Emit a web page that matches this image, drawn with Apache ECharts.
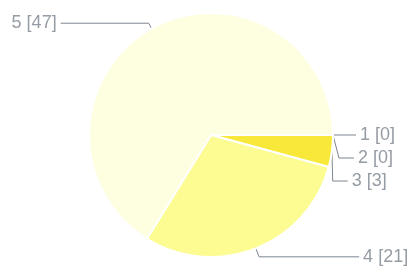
<!DOCTYPE html>
<html>
<head>
<meta charset="utf-8">
<script src="https://cdn.jsdelivr.net/npm/echarts@6/dist/echarts.min.js"></script>
<style>
html, body { margin: 0; padding: 0; background: #fff; }
#pie { width: 413px; height: 272px; }
</style>
</head>
<body>
<div id="pie"></div>
<script>
var categories = ['1', '2', '3', '4', '5'];
var values = [0, 0, 3, 21, 47];
var colors = ['#f6e02c', '#f7e533', '#f8e83a', '#fcfc92', '#fefee0'];

var chart = echarts.init(document.getElementById('pie'), null, {renderer: 'canvas'});
var pieData = categories.map(function (c, i) {
    var item = {name: c, value: values[i], itemStyle: {color: colors[i]}};
    // 小扇区的引导线短一些
    if (i < 3) {
        item.labelLine = {length: 12, length2: 15};
    } else if (i === 3) {
        item.labelLine = {length: 9, length2: 100};
    }
    return item;
});

chart.setOption({
    animation: false,
    series: [{
        type: 'pie',
        center: [211, 135],
        radius: 122,
        startAngle: 0,
        clockwise: true,
        avoidLabelOverlap: true,
        itemStyle: {borderColor: '#fff', borderWidth: 2},
        label: {
            formatter: '{b} [{c}]',
            color: '#969ca4',
            fontFamily: 'Liberation Sans',
            fontSize: 18,
            lineHeight: 21,
            overflow: 'none',
            distanceToLabelLine: 4
        },
        labelLine: {
            length: 6,
            length2: 88,
            lineStyle: {color: '#7d8590', width: 1}
        },
        data: pieData
    }]
});
</script>
</body>
</html>
